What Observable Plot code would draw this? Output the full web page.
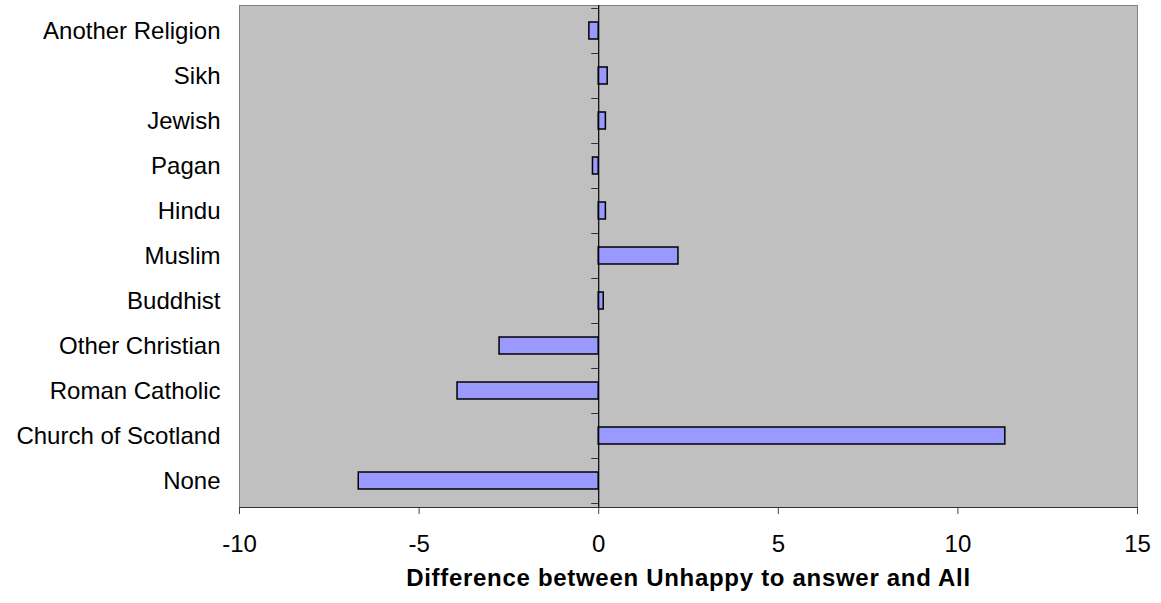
<!DOCTYPE html>
<html><head><meta charset="utf-8">
<script src="https://cdn.jsdelivr.net/npm/d3@7"></script>
<script src="https://cdn.jsdelivr.net/npm/@observablehq/plot@0.6"></script>
<style>body{margin:0;background:#fff;}</style>
</head><body><div id="chart"></div>
<script>
const categories = ["Another Religion","Sikh","Jewish","Pagan","Hindu","Muslim","Buddhist","Other Christian","Roman Catholic","Church of Scotland","None"];
const values = [-0.26,0.25,0.2,-0.16,0.2,2.22,0.14,-2.76,-3.93,11.32,-6.68];
const xTicks = [-10,-5,0,5,10,15];
const xTitle = "Difference between Unhappy to answer and All";
const data = categories.map((c,i)=>({category:c, value:values[i]}));

const chart = Plot.plot({
  width:1161, height:603, marginLeft:239, marginRight:24, marginTop:5, marginBottom:96,
  style:{fontFamily:'"Liberation Sans", Arial, sans-serif', background:"#fff", color:"#000"},
  x:{domain:[-10,15]},
  y:{domain:categories, paddingInner:0.62, paddingOuter:0.31},
  marks:[
    Plot.frame({fill:"#c0c0c0", stroke:"#808080"}),
    Plot.barX(data,{y:"category", x:"value", fill:"#9999ff", stroke:"#000", strokeWidth:1.5}),
    Plot.ruleX([0],{stroke:"#000", strokeWidth:1.2}),
    Plot.axisX({ticks:xTicks, tickFormat:d=>String(d), tickSize:7, tickPadding:20, fontSize:24, label:null, stroke:"#444", fill:"#000"}),
    Plot.axisY({tickSize:0, tickPadding:19, fontSize:24, label:null, fill:"#000"}),
    Plot.text([xTitle],{text:d=>d, frameAnchor:"bottom", dy:78, fontSize:24, fontWeight:"bold", fill:"#000"})
  ]
});
document.getElementById("chart").appendChild(chart);

// boundary ticks on the zero axis and the dark bottom axis line
const sx = chart.scale("x"), sy = chart.scale("y");
const x0 = sx.apply(0);
const half = (sy.step - sy.bandwidth)/2;
const bounds = categories.map(c => sy.apply(c) - half)
  .concat([sy.apply(categories[categories.length-1]) + sy.bandwidth + half]);
const svg = d3.select(chart);
const g = svg.append("g");
g.selectAll("line.yt").data(bounds).join("line")
  .attr("x1", x0-7).attr("x2", x0)
  .attr("y1", d=>Math.round(d)+0.5).attr("y2", d=>Math.round(d)+0.5)
  .attr("stroke","#333");
const yb = Math.round(sy.range[1]) + 0.5;
g.append("line").attr("x1", sx.range[0]).attr("x2", sx.range[1]).attr("y1", yb).attr("y2", yb).attr("stroke","#333");
svg.selectAll("text").filter(function(){return this.textContent===xTitle;}).style("letter-spacing","0.7px");
</script>
</body></html>
